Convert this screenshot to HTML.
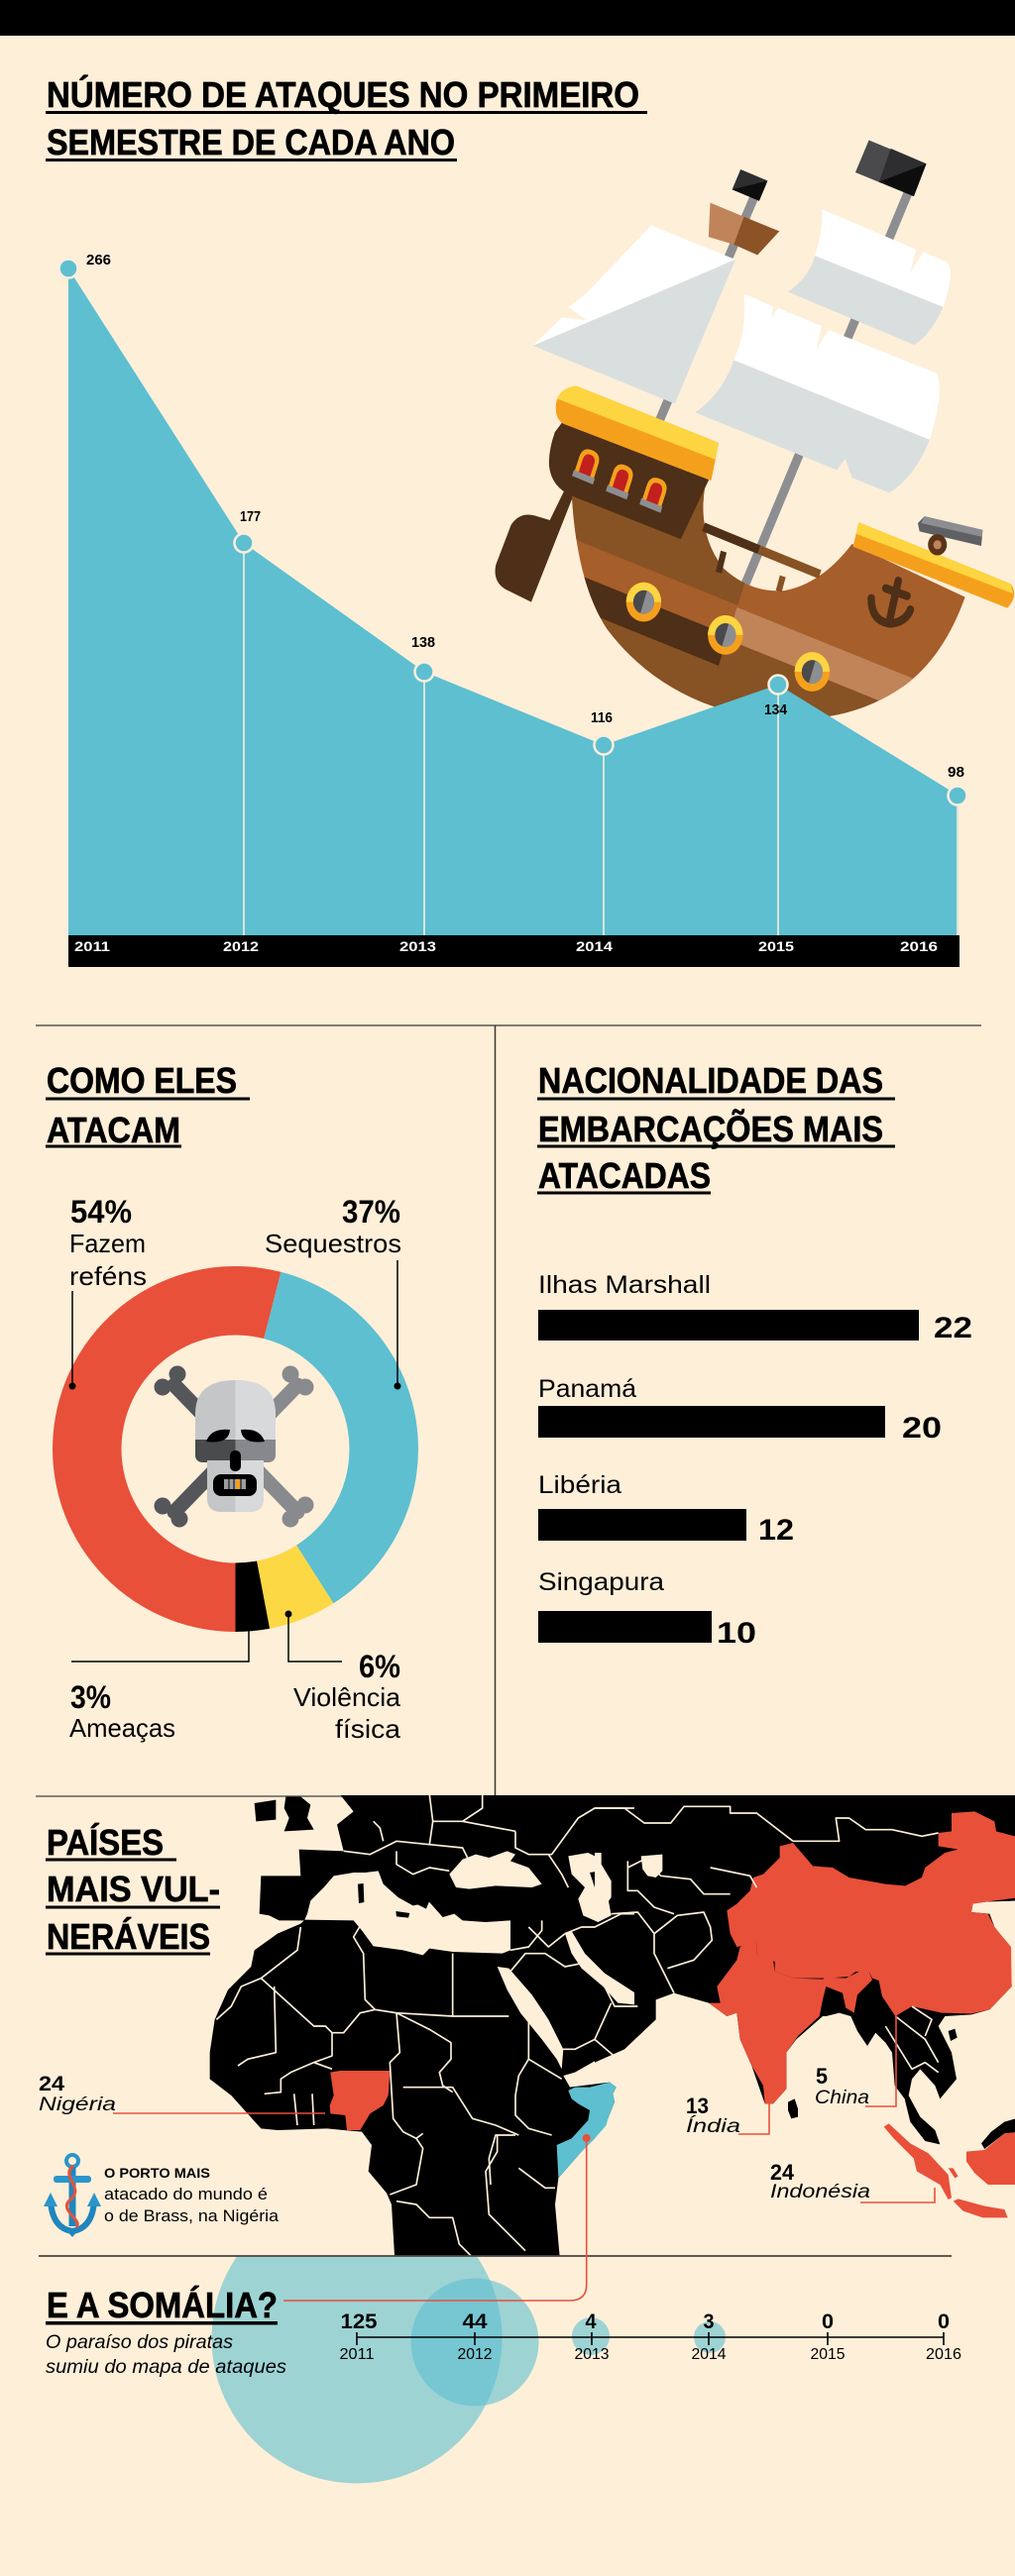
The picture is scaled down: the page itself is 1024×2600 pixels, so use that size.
<!DOCTYPE html>
<html><head><meta charset="utf-8"><style>
html,body{margin:0;padding:0;background:#feefd9;width:1024px;height:2600px;overflow:hidden}
svg{display:block}
text{font-family:"Liberation Sans",Arial,sans-serif}
.t{font-weight:bold;font-size:36px;fill:#000;stroke:#000;stroke-width:0.7px}
.b{fill:none;stroke:#feefd9;stroke-width:5;stroke-linejoin:round}
</style></head><body>
<svg width="1024" height="2600" viewBox="0 0 1024 2600" xmlns="http://www.w3.org/2000/svg">
<defs>
<clipPath id="mapclip"><rect x="0" y="1812" width="1024" height="465"/></clipPath>
<clipPath id="lowclip"><rect x="0" y="2277" width="1024" height="330"/></clipPath>
</defs>
<rect x="0" y="0" width="1024" height="2600" fill="#feefd9"/>
<rect x="0" y="0" width="1024" height="36" fill="#000"/>

<!-- TITLE 1 -->
<text class="t" x="47" y="108" textLength="598" lengthAdjust="spacingAndGlyphs">NÚMERO DE ATAQUES NO PRIMEIRO</text>
<rect x="46" y="112" width="607" height="3" fill="#000"/>
<text class="t" x="47" y="156" textLength="412" lengthAdjust="spacingAndGlyphs">SEMESTRE DE CADA ANO</text>
<rect x="46" y="160" width="415" height="3" fill="#000"/>

<!-- SHIP -->
<g transform="translate(490,130) scale(0.3406,0.3827)">
 <line x1="800" y1="170" x2="505" y2="790" stroke="#8d8e91" stroke-width="26"/>
 <line x1="1255" y1="160" x2="760" y2="1220" stroke="#8d8e91" stroke-width="26"/>
 <polygon points="1135,30 1305,92 1268,178 1095,115" fill="#4a4a4c"/>
 <polygon points="1200,52 1305,92 1268,178 1165,140" fill="#2e2e30"/>
 <polygon points="1165,140 1305,92 1268,178" fill="#0d0d0d"/>
 <polygon points="755,107 835,137 810,190 730,160" fill="#2e2e30"/>
 <polygon points="730,160 835,137 810,190" fill="#0d0d0d"/>
 <polygon points="665,195 765,232 735,305 660,285" fill="#c0845a"/>
 <polygon points="765,232 870,270 805,333 735,305" fill="#8b5326"/>
 <polygon points="490,255 740,345 140,572 225,498 300,505 245,470 290,440 300,432" fill="#ffffff"/>
 <polygon points="740,345 560,725 140,572" fill="#d9dfde"/>
 <path d="M995,212 L1275,318 L1258,378 L1297,325 L1368,352 Q1390,380 1355,470 L975,335 Q1000,270 995,212 Z" fill="#ffffff"/>
 <path d="M975,335 L1355,470 Q1320,540 1270,570 L895,430 Q960,390 975,335 Z" fill="#d9dfde"/>
 <path d="M765,435 L850,468 L848,500 L865,472 L995,520 L980,580 L1015,530 L1335,645 Q1360,690 1315,820 L735,610 Q775,530 765,435 Z" fill="#ffffff"/>
 <path d="M735,610 L1315,820 Q1270,920 1195,960 L1085,920 L1065,870 L1040,900 L620,748 Q700,700 735,610 Z" fill="#d9dfde"/>
 <path d="M60,1215 Q20,1195 30,1150 L75,1045 Q100,1010 145,1020 L190,1032 L235,950 L262,962 L135,1248 Z" fill="#4e2f17"/>
 <clipPath id="hullc"><path d="M255,965 L575,1080 L650,940 Q625,1070 705,1160 Q785,1225 885,1218 Q995,1200 1085,1095 L1420,1235 Q1360,1385 1250,1462 Q1120,1548 950,1556 Q780,1562 640,1512 Q470,1450 360,1320 Q270,1200 255,965 Z"/></clipPath>
 <clipPath id="hl"><polygon points="0,800 790,800 770,1190 625,1600 0,1600"/></clipPath>
 <clipPath id="hr"><polygon points="790,800 1700,800 1700,1700 625,1700 625,1600 770,1190"/></clipPath>
 <g clip-path="url(#hullc)">
  <rect x="0" y="850" width="1700" height="800" fill="#a65e2b"/>
  <g clip-path="url(#hl)">
   <polygon points="0,800 1600,800 1600,1564 0,988" fill="#875224"/>
   <polygon points="0,1077 1600,1653 1600,1744 0,1168" fill="#4e2f17"/>
   <polygon points="0,1168 1600,1744 1600,1800 0,1800" fill="#875224"/>
  </g>
  <g clip-path="url(#hr)">
   <polygon points="0,994 1700,1606 1700,1701 0,1089" fill="#c08458"/>
   <polygon points="0,1089 1700,1701 1700,1800 0,1800" fill="#875224"/>
  </g>
 </g>
 <line x1="645" y1="1050" x2="810" y2="1110" stroke="#4e2f17" stroke-width="24"/>
 <line x1="810" y1="1110" x2="990" y2="1175" stroke="#875224" stroke-width="24"/>
 <line x1="705" y1="1115" x2="690" y2="1170" stroke="#4e2f17" stroke-width="18"/>
 <line x1="880" y1="1180" x2="868" y2="1220" stroke="#875224" stroke-width="18"/>
 <path d="M230,770 L665,918 L578,1082 L255,968 Q195,945 188,890 Q185,850 205,800 Z" fill="#4e2f17"/>
 <path d="M268,678 L690,828 L668,928 L230,778 Q205,765 208,728 Q212,688 268,678 Z" fill="#f5a01d"/>
 <path d="M268,678 L690,828 L680,872 L212,712 Q222,684 268,678 Z" fill="#fdd540"/>
 <g transform="translate(300,890) rotate(20)"><path d="M-30,35 L-30,-15 Q-30,-45 0,-45 Q30,-45 30,-15 L30,35 Z" fill="#f5a01d"/><path d="M-18,25 L-18,-12 Q-18,-32 0,-32 Q18,-32 18,-12 L18,25 Z" fill="#c1201f"/><rect x="-33" y="22" width="66" height="17" fill="#8d8e91"/></g>
 <g transform="translate(400,930) rotate(20)"><path d="M-30,35 L-30,-15 Q-30,-45 0,-45 Q30,-45 30,-15 L30,35 Z" fill="#f5a01d"/><path d="M-18,25 L-18,-12 Q-18,-32 0,-32 Q18,-32 18,-12 L18,25 Z" fill="#c1201f"/><rect x="-33" y="22" width="66" height="17" fill="#8d8e91"/></g>
 <g transform="translate(500,965) rotate(20)"><path d="M-30,35 L-30,-15 Q-30,-45 0,-45 Q30,-45 30,-15 L30,35 Z" fill="#f5a01d"/><path d="M-18,25 L-18,-12 Q-18,-32 0,-32 Q18,-32 18,-12 L18,25 Z" fill="#c1201f"/><rect x="-33" y="22" width="66" height="17" fill="#8d8e91"/></g>
 <g><circle cx="468" cy="1248" r="52" fill="#f5a01d"/><path d="M416,1248 A52,52 0 0 1 520,1248 Z" fill="#fdd540"/><circle cx="468" cy="1248" r="31" fill="#4a4a4c"/><path d="M478,1218 A31,31 0 0 1 458,1278 Z" fill="#8d8e91"/></g>
 <g><circle cx="710" cy="1335" r="52" fill="#f5a01d"/><path d="M658,1335 A52,52 0 0 1 762,1335 Z" fill="#fdd540"/><circle cx="710" cy="1335" r="31" fill="#4a4a4c"/><path d="M720,1305 A31,31 0 0 1 700,1365 Z" fill="#8d8e91"/></g>
 <g><circle cx="967" cy="1432" r="52" fill="#f5a01d"/><path d="M915,1432 A52,52 0 0 1 1019,1432 Z" fill="#fdd540"/><circle cx="967" cy="1432" r="31" fill="#4a4a4c"/><path d="M977,1402 A31,31 0 0 1 957,1462 Z" fill="#8d8e91"/></g>
 <path d="M1105,1038 L1555,1200 Q1580,1232 1545,1264 L1088,1102 Z" fill="#f5a01d"/>
 <path d="M1105,1038 L1555,1200 L1562,1226 L1097,1068 Z" fill="#fdd540"/>
 <g stroke="#4e2f17" stroke-width="22" fill="none" stroke-linecap="round">
  <line x1="1222" y1="1192" x2="1198" y2="1290"/>
  <line x1="1185" y1="1212" x2="1248" y2="1232"/>
  <path d="M1142,1238 Q1142,1300 1200,1305 Q1245,1300 1258,1268"/>
 </g>
 <polygon points="1280,1040 1300,1022 1472,1058 1468,1100 1285,1062" fill="#5f6063"/>
 <polygon points="1300,1022 1472,1058 1470,1076 1290,1040" fill="#8d8e91"/>
 <circle cx="1338" cy="1097" r="28" fill="#5a3418"/>
 <circle cx="1338" cy="1097" r="12" fill="#c0845a"/>
</g>

<!-- AREA CHART -->
<polygon points="69,271 246,548 428,678 609,752 785,691 967,803 967,944 69,944" fill="#5dbfd0"/>
<g stroke="#fbeedd" stroke-width="1.6">
 <line x1="246" y1="558" x2="246" y2="944"/>
 <line x1="428" y1="688" x2="428" y2="944"/>
 <line x1="609" y1="762" x2="609" y2="944"/>
 <line x1="785" y1="701" x2="785" y2="944"/>
 <line x1="966" y1="813" x2="966" y2="944"/>
</g>
<g fill="#5dbfd0" stroke="#fbeedd" stroke-width="2.5">
 <circle cx="69" cy="271" r="9.5"/>
 <circle cx="246" cy="548" r="9.5"/>
 <circle cx="428" cy="678" r="9.5"/>
 <circle cx="609" cy="752" r="9.5"/>
 <circle cx="785" cy="691" r="9.5"/>
 <circle cx="966" cy="803" r="9.5"/>
</g>
<g font-weight="bold" font-size="15" fill="#000">
 <text x="87" y="267" textLength="25" lengthAdjust="spacingAndGlyphs">266</text>
 <text x="242" y="526" textLength="21" lengthAdjust="spacingAndGlyphs">177</text>
 <text x="415" y="653" textLength="24" lengthAdjust="spacingAndGlyphs">138</text>
 <text x="596" y="729" textLength="22" lengthAdjust="spacingAndGlyphs">116</text>
 <text x="771" y="721" textLength="23" lengthAdjust="spacingAndGlyphs">134</text>
 <text x="956" y="784" textLength="17" lengthAdjust="spacingAndGlyphs">98</text>
</g>
<rect x="69" y="944" width="899" height="32" fill="#000"/>
<g font-weight="bold" font-size="14" fill="#fff">
 <text x="75" y="960" textLength="36" lengthAdjust="spacingAndGlyphs">2011</text>
 <text x="225" y="960" textLength="36" lengthAdjust="spacingAndGlyphs">2012</text>
 <text x="403" y="960" textLength="37" lengthAdjust="spacingAndGlyphs">2013</text>
 <text x="581" y="960" textLength="37" lengthAdjust="spacingAndGlyphs">2014</text>
 <text x="765" y="960" textLength="36" lengthAdjust="spacingAndGlyphs">2015</text>
 <text x="908" y="960" textLength="38" lengthAdjust="spacingAndGlyphs">2016</text>
</g>

<!-- DIVIDERS -->
<line x1="36" y1="1035" x2="990" y2="1035" stroke="#5a5550" stroke-width="1.5"/>
<line x1="499.5" y1="1035" x2="499.5" y2="1813" stroke="#3a3530" stroke-width="1.5"/>
<line x1="36" y1="1813" x2="990" y2="1813" stroke="#7a7268" stroke-width="1.8"/>

<!-- COMO ELES ATACAM -->
<text class="t" font-size="34" x="47" y="1103" textLength="192" lengthAdjust="spacingAndGlyphs">COMO ELES</text>
<rect x="46" y="1107.5" width="206" height="3" fill="#000"/>
<text class="t" font-size="34" x="47" y="1153" textLength="135" lengthAdjust="spacingAndGlyphs">ATACAM</text>
<rect x="46" y="1155.5" width="137" height="3" fill="#000"/>

<!-- DONUT -->
<path d="M283.38,1283.79 A184.5,184.5 0 0 1 336.36,1618.27 L299.12,1559.59 A115,115 0 0 0 266.10,1351.11 Z" fill="#5dbfd0"/>
<path d="M336.36,1618.27 A184.5,184.5 0 0 1 272.07,1643.73 L259.05,1575.46 A115,115 0 0 0 299.12,1559.59 Z" fill="#fdd845"/>
<path d="M272.07,1643.73 A184.5,184.5 0 0 1 237.5,1647 L237.5,1577.5 A115,115 0 0 0 259.05,1575.46 Z" fill="#000"/>
<path d="M237.5,1647 A184.5,184.5 0 1 1 283.38,1283.79 L266.10,1351.11 A115,115 0 1 0 237.5,1577.5 Z" fill="#e8503a"/>
<!-- skull -->
<g stroke-linecap="round" stroke-width="15">
 <line x1="176" y1="1398" x2="238" y2="1462" stroke="#55565a"/>
 <line x1="238" y1="1462" x2="300" y2="1526" stroke="#898a8d"/>
 <line x1="300" y1="1398" x2="238" y2="1462" stroke="#898a8d"/>
 <line x1="238" y1="1462" x2="176" y2="1526" stroke="#55565a"/>
</g>
<g fill="#55565a"><circle cx="164" cy="1400" r="8.5"/><circle cx="179" cy="1387" r="8.5"/><circle cx="164" cy="1520" r="8.5"/><circle cx="181" cy="1533" r="8.5"/></g>
<g fill="#898a8d"><circle cx="293" cy="1387" r="8.5"/><circle cx="308" cy="1400" r="8.5"/><circle cx="293" cy="1533" r="8.5"/><circle cx="308" cy="1519" r="8.5"/></g>
<path d="M197,1472 L197,1427 Q197,1393 237.5,1393 Q278,1393 278,1427 L278,1472 Z" fill="#c5c6c8"/>
<path d="M237.5,1393 Q278,1393 278,1427 L278,1472 L237.5,1472 Z" fill="#d8d9db"/>
<path d="M197,1453 L237.5,1453 L237.5,1476 L205,1476 Q197,1476 197,1468 Z" fill="#4a4b4d"/>
<path d="M237.5,1453 L278,1453 L278,1468 Q278,1476 270,1476 L237.5,1476 Z" fill="#87888b"/>
<path d="M209,1474 L266,1474 L266,1512 Q266,1526 252,1526 L223,1526 Q209,1526 209,1512 Z" fill="#c5c6c8"/>
<path d="M237.5,1474 L266,1474 L266,1512 Q266,1526 252,1526 L237.5,1526 Z" fill="#d8d9db"/>
<path d="M208,1455 Q213,1441 232,1443 Q231,1458 208,1455 Z" fill="#000"/>
<path d="M267,1455 Q262,1441 243,1443 Q244,1458 267,1455 Z" fill="#000"/>
<rect x="232" y="1464" width="11" height="21" rx="5" fill="#000"/>
<rect x="215" y="1488" width="44" height="22" rx="8" fill="#000"/>
<rect x="226" y="1493" width="22" height="10" fill="#9c9da0"/>
<rect x="238" y="1493" width="4" height="10" fill="#f5a01d"/>
<g stroke="#000" stroke-width="1"><line x1="231" y1="1493" x2="231" y2="1503"/><line x1="236" y1="1493" x2="236" y2="1503"/><line x1="243" y1="1493" x2="243" y2="1503"/></g>

<!-- donut labels -->
<g fill="#000">
 <text x="71" y="1234" font-weight="bold" font-size="32" textLength="62" lengthAdjust="spacingAndGlyphs">54%</text>
 <text x="70" y="1264" font-size="26" textLength="77" lengthAdjust="spacingAndGlyphs">Fazem</text>
 <text x="70" y="1297" font-size="26" textLength="78" lengthAdjust="spacingAndGlyphs">reféns</text>
 <text x="345" y="1234" font-weight="bold" font-size="32" textLength="59" lengthAdjust="spacingAndGlyphs">37%</text>
 <text x="267" y="1264" font-size="26" textLength="138" lengthAdjust="spacingAndGlyphs">Sequestros</text>
 <text x="362" y="1693" font-weight="bold" font-size="32" textLength="42" lengthAdjust="spacingAndGlyphs">6%</text>
 <text x="296" y="1722" font-size="26" textLength="108" lengthAdjust="spacingAndGlyphs">Violência</text>
 <text x="338" y="1754" font-size="26" textLength="66" lengthAdjust="spacingAndGlyphs">física</text>
 <text x="71" y="1724" font-weight="bold" font-size="32" textLength="41" lengthAdjust="spacingAndGlyphs">3%</text>
 <text x="70" y="1753" font-size="26" textLength="107" lengthAdjust="spacingAndGlyphs">Ameaças</text>
</g>
<g stroke="#000" stroke-width="1.5" fill="none">
 <line x1="73" y1="1303" x2="73" y2="1399"/>
 <line x1="401" y1="1272" x2="401" y2="1399"/>
 <polyline points="251,1645 251,1677 72,1677"/>
 <polyline points="291,1629 291,1677 345,1677"/>
</g>
<g fill="#000"><circle cx="73" cy="1399" r="3.5"/><circle cx="401" cy="1399" r="3.5"/><circle cx="291" cy="1629" r="3.5"/></g>

<!-- NACIONALIDADE -->
<text class="t" font-size="34" x="543" y="1103" textLength="348" lengthAdjust="spacingAndGlyphs">NACIONALIDADE DAS</text>
<rect x="542" y="1107.5" width="361" height="3" fill="#000"/>
<text class="t" font-size="34" x="543" y="1152" textLength="348" lengthAdjust="spacingAndGlyphs">EMBARCAÇÕES MAIS</text>
<rect x="542" y="1155.5" width="361" height="3" fill="#000"/>
<text class="t" font-size="34" x="543" y="1199" textLength="174" lengthAdjust="spacingAndGlyphs">ATACADAS</text>
<rect x="542" y="1202.5" width="175" height="3" fill="#000"/>
<g fill="#000">
 <text x="543" y="1305" font-size="25" textLength="174" lengthAdjust="spacingAndGlyphs">Ilhas Marshall</text>
 <rect x="543" y="1322" width="384" height="31"/>
 <text x="942" y="1350" font-weight="bold" font-size="30" textLength="39" lengthAdjust="spacingAndGlyphs">22</text>
 <text x="543" y="1410" font-size="25" textLength="99" lengthAdjust="spacingAndGlyphs">Panamá</text>
 <rect x="543" y="1419" width="350" height="32"/>
 <text x="910" y="1451" font-weight="bold" font-size="30" textLength="40" lengthAdjust="spacingAndGlyphs">20</text>
 <text x="543" y="1507" font-size="25" textLength="84" lengthAdjust="spacingAndGlyphs">Libéria</text>
 <rect x="543" y="1523" width="210" height="32"/>
 <text x="765" y="1554" font-weight="bold" font-size="30" textLength="36" lengthAdjust="spacingAndGlyphs">12</text>
 <text x="543" y="1605" font-size="25" textLength="127" lengthAdjust="spacingAndGlyphs">Singapura</text>
 <rect x="543" y="1626" width="175" height="32"/>
 <text x="723" y="1658" font-weight="bold" font-size="30" textLength="40" lengthAdjust="spacingAndGlyphs">10</text>
</g>

<!-- SOMALIA BUBBLES -->
<g clip-path="url(#lowclip)">
 <circle cx="360" cy="2360" r="146.5" fill="#5dbfd0" fill-opacity="0.6"/>
</g>
<circle cx="479" cy="2364" r="64.5" fill="#5dbfd0" fill-opacity="0.6"/>
<circle cx="596" cy="2358" r="19" fill="#5dbfd0" fill-opacity="0.6"/>
<circle cx="716" cy="2359" r="16" fill="#5dbfd0" fill-opacity="0.6"/>

<!-- MAP -->
<g clip-path="url(#mapclip)">
<g transform="translate(200,1805) scale(0.333333)">
 <polygon fill="#000" points="430,20 1320,20 1320,700 1280,780 1210,820 1140,860 1105,870 1125,905 1245,890 1265,905 1255,925 1260,950 1240,1000 1200,1060 1160,1100 1090,1180 1080,1260 1095,1430 595,1430 585,1260 570,1225 515,1160 525,1080 495,1040 440,1035 390,1030 240,1035 190,1030 100,930 35,880 35,800 50,700 90,610 160,540 170,490 240,440 310,410 320,400 245,400 215,385 185,380 190,265 310,265 305,185 440,190 420,110 470,70"/>
 <polygon fill="#000" points="170,45 235,35 235,95 175,100"/>
 <polygon fill="#000" points="265,25 310,25 340,50 330,90 350,125 260,130 275,90 260,60"/>
</g>
<g transform="translate(600,1805) scale(0.333333)">
 <polygon fill="#000" points="0,20 1290,20 1290,340 1145,345 1140,375 1195,380 1210,420 1255,480 1262,600 1195,670 1140,685 1060,690 1040,720 1060,760 1080,800 1095,880 1045,940 1030,900 985,850 960,880 950,930 985,995 1030,1035 1045,1078 1000,1068 955,1010 938,940 908,900 900,800 880,770 850,740 825,780 795,735 775,690 740,680 700,690 690,690 610,760 580,800 580,910 540,955 515,955 475,840 440,760 430,680 400,690 345,650 240,620 185,640 185,700 90,790 0,830"/>
 <polygon fill="#000" points="585,950 605,940 615,970 615,995 595,1000 585,975"/>
 <polygon fill="#000" points="1070,735 1090,728 1097,755 1077,765"/>
 <polygon fill="#000" points="1170,1075 1200,1040 1240,1010 1290,995 1290,1040 1240,1045 1180,1092"/>
</g>
<g transform="translate(200,1805) scale(0.333333)" fill="#feefd9">
 <polygon points="322,398 470,400 495,430 530,478 620,490 680,505 700,485 770,495 920,500 945,490 945,400 870,405 800,400 775,380 740,390 700,345 650,355 605,330 560,290 545,250 505,255 470,255 410,265 380,300 340,340 330,380"/>
 <polygon points="760,260 800,215 840,200 880,210 935,190 960,200 945,220 1000,240 1040,290 1010,300 900,295 820,305 780,300"/>
 <polygon points="1120,205 1180,195 1220,215 1215,250 1185,255 1200,300 1240,330 1250,385 1210,405 1165,385 1150,335 1170,300 1130,260"/>
 <polygon points="905,540 940,545 1010,625 1060,700 1105,790 1100,850 1085,820 1040,760 975,680 935,610"/>
 <polygon points="1110,440 1130,432 1170,500 1230,560 1320,618 1320,655 1270,650 1225,600 1160,545 1130,500"/>
</g>
<g transform="translate(200,1805) scale(0.333333)" fill="#000">
 <polygon points="545,225 585,235 640,300 700,340 690,365 650,345 600,320 560,280 540,240"/>
 <polygon points="483,290 500,288 502,345 486,348"/>
 <polygon points="598,372 640,378 636,392 600,388"/>
</g>
<g transform="translate(600,1805) scale(0.333333)">
 <polygon fill="#feefd9" points="0,195 20,195 20,230 50,280 50,330 0,400"/>
 <polygon fill="#feefd9" points="140,205 205,200 205,250 185,270 160,265 145,245"/>
 <polygon fill="#e8503a" points="1080,75 1150,70 1210,100 1215,130 1290,150 1290,330 1210,340 1145,350 1140,375 1190,380 1210,420 1260,480 1262,600 1195,670 1140,682 1050,680 960,660 910,690 870,630 860,582 840,575 830,555 790,555 770,570 700,575 600,575 545,555 545,525 490,500 490,470 430,480 410,440 400,370 430,350 470,310 480,270 510,260 560,210 560,175 600,165 630,200 660,235 720,240 770,270 880,290 940,295 990,270 1000,240 1060,195 1100,185 1040,175 1040,135 1080,130"/>
 <polygon fill="#e8503a" points="345,650 380,650 370,600 430,520 440,480 465,470 490,470 490,500 540,520 545,555 600,575 690,578 700,572 760,575 800,555 830,555 840,580 795,625 785,680 760,665 750,620 700,600 690,640 680,690 615,750 580,800 580,910 540,955 515,955 510,900 475,840 440,760 430,680 400,690"/>
 <polygon fill="#e8503a" points="875,1025 890,1015 955,1075 1010,1105 1070,1170 1080,1240 1070,1245 1045,1200 975,1160 965,1120 905,1060"/>
 <polygon fill="#e8503a" points="1085,1250 1100,1243 1180,1265 1240,1275 1250,1300 1175,1300 1115,1280"/>
 <polygon fill="#e8503a" points="1125,1100 1180,1095 1240,1045 1290,1040 1290,1200 1190,1200 1150,1165 1125,1130"/>
 <polygon fill="#e8503a" points="1070,1150 1085,1150 1100,1175 1090,1180"/>
</g>
<g transform="translate(200,1805) scale(0.333333)">
 <polygon fill="#e8503a" points="400,860 430,855 580,855 575,930 560,960 520,985 490,1035 450,1035 445,990 400,985 398,960 410,930"/>
 <polygon fill="#5dbfd0" points="1120,915 1140,905 1185,905 1245,890 1265,905 1255,925 1260,950 1240,1000 1235,1020 1200,1060 1160,1100 1090,1180 1085,1080 1130,1060 1180,1005 1185,975 1150,955 1130,940"/>
</g>
<g transform="translate(200,1805) scale(0.333333)">
 <polyline class="b" points="310,420 300,490 190,575 130,600 100,660 55,700"/>
 <polyline class="b" points="190,575 350,720 385,720 405,740 405,810 350,830"/>
 <polyline class="b" points="230,600 235,800 150,820 120,840"/>
 <polyline class="b" points="500,400 470,450 500,500 505,640 535,670 600,680 770,690 770,500"/>
 <polyline class="b" points="535,670 490,680 440,740 405,740"/>
 <polyline class="b" points="770,690 940,690"/>
 <polyline class="b" points="600,680 610,800 580,830 590,1000 620,1040 660,1060"/>
 <polyline class="b" points="600,680 700,730 765,770 765,820 730,860 740,900 770,920"/>
 <polyline class="b" points="405,850 350,830 280,860 250,880 250,920 200,925"/>
 <polyline class="b" points="620,905 770,905 830,1000 900,1020 970,1050"/>
 <polyline class="b" points="1000,690 1000,820 970,870 960,930 960,990 1000,1030 1070,1050"/>
 <polyline class="b" points="1000,820 1100,880"/>
 <polyline class="b" points="960,1050 900,1050 880,1120 885,1200"/>
 <polyline class="b" points="680,1045 660,1060 680,1090 660,1200 580,1230"/>
 <polyline class="b" points="905,1050 905,1100 870,1160 880,1290 990,1400"/>
 <polyline class="b" points="970,1150 1050,1210 1080,1210"/>
 <polyline class="b" points="600,1250 660,1260 700,1300 770,1300 790,1380 830,1420"/>
 <polyline class="b" points="290,925 300,1020"/>
 <polyline class="b" points="345,925 350,1020"/>
 <polyline class="b" points="945,490 1000,480 1040,430 1040,400"/>
 <polyline class="b" points="940,560 990,500 1050,500 1110,540 1160,530"/>
 <polyline class="b" points="1250,650 1200,760 1270,820"/>
 <polyline class="b" points="1100,790 1140,790 1200,760"/>
 <polyline class="b" points="440,190 520,200 560,180 600,160 700,170 800,180 820,220"/>
 <polyline class="b" points="530,100 550,120 560,160"/>
 <polyline class="b" points="600,190 600,230 650,260 700,240 760,250"/>
 <polyline class="b" points="700,20 710,100 800,100 860,60 860,20"/>
 <polyline class="b" points="710,100 700,170"/>
 <polyline class="b" points="960,130 960,180 1000,200 1070,200 1150,90 1200,60 1320,60"/>
 <polyline class="b" points="800,100 960,130"/>
 <polyline class="b" points="1060,200 1100,260 1120,300"/>
 <polyline class="b" points="1000,420 1060,480 1110,440"/>
 <polyline class="b" points="1110,440 1160,420 1200,420 1280,380 1320,380"/>
</g>
<g transform="translate(600,1805) scale(0.333333)">
 <polyline class="b" points="0,60 90,60 150,105 230,105 270,55 410,55 410,75 490,75 600,160"/>
 <polyline class="b" points="600,160 740,160 730,90 770,90 820,125 900,125 990,145 1040,135"/>
 <polyline class="b" points="100,240 150,215 200,265 290,275 330,320 410,320"/>
 <polyline class="b" points="50,380 130,375 180,440 180,500 210,560 240,620"/>
 <polyline class="b" points="180,440 250,385 330,375 350,420 355,460 300,520 220,545"/>
 <polyline class="b" points="350,240 470,265 490,300"/>
 <polyline class="b" points="100,220 100,310 130,310 180,360 240,380"/>
 <polyline class="b" points="880,720 960,850 1000,830 1040,860"/>
 <polyline class="b" points="910,690 1000,760 1040,830"/>
 <polyline class="b" points="960,660 1020,700 1000,750"/>
 <polyline class="b" points="0,540 30,600 60,660 130,660"/>
</g>
</g>
<line x1="39" y1="2277" x2="960" y2="2277" stroke="#4a4540" stroke-width="1.8"/>

<!-- PAISES title -->
<text class="t" font-size="34" x="47" y="1872" textLength="118" lengthAdjust="spacingAndGlyphs">PAÍSES</text>
<rect x="46" y="1875.5" width="132" height="3" fill="#000"/>
<text class="t" font-size="34" x="47" y="1919" textLength="175" lengthAdjust="spacingAndGlyphs">MAIS VUL-</text>
<rect x="46" y="1923.5" width="176" height="3" fill="#000"/>
<text class="t" font-size="34" x="47" y="1967" textLength="165" lengthAdjust="spacingAndGlyphs">NERÁVEIS</text>
<rect x="46" y="1970.5" width="166" height="3" fill="#000"/>

<!-- map labels -->
<g fill="#000">
 <text x="39" y="2110" font-weight="bold" font-size="21" textLength="26" lengthAdjust="spacingAndGlyphs">24</text>
 <text x="39" y="2130" font-style="italic" font-size="19" textLength="78" lengthAdjust="spacingAndGlyphs">Nigéria</text>
 <text x="692" y="2133" font-weight="bold" font-size="22" textLength="23" lengthAdjust="spacingAndGlyphs">13</text>
 <text x="692" y="2152" font-style="italic" font-size="19" textLength="55" lengthAdjust="spacingAndGlyphs">Índia</text>
 <text x="823" y="2103" font-weight="bold" font-size="22" textLength="12" lengthAdjust="spacingAndGlyphs">5</text>
 <text x="822" y="2123" font-style="italic" font-size="19" textLength="55" lengthAdjust="spacingAndGlyphs">China</text>
 <text x="777" y="2200" font-weight="bold" font-size="22" textLength="24" lengthAdjust="spacingAndGlyphs">24</text>
 <text x="777" y="2218" font-style="italic" font-size="19" textLength="101" lengthAdjust="spacingAndGlyphs">Indonésia</text>
</g>
<g stroke="#e8503a" stroke-width="1.6" fill="none">
 <line x1="114" y1="2133" x2="328" y2="2133"/>
 <polyline points="745,2154 776,2154 776,2123"/>
 <polyline points="873,2126 904,2126 904,2032"/>
 <polyline points="868,2223 943,2223 943,2208"/>
 <path d="M591.7,2158 L591.7,2306 Q591.7,2322 575,2322 L286,2322"/>
</g>
<circle cx="591.7" cy="2158" r="4" fill="#e8503a"/>

<!-- anchor -->
<g>
 <circle cx="73" cy="2181" r="6" fill="none" stroke="#2b95c9" stroke-width="4"/>
 <rect x="69.5" y="2187" width="7" height="60" fill="#1f86bd"/>
 <rect x="54" y="2196" width="38" height="7" rx="3" fill="#2b95c9"/>
 <path d="M51,2222 Q53,2249 73,2252 Q93,2249 95,2222" fill="none" stroke="#1f86bd" stroke-width="6"/>
 <polygon points="44,2227 51,2213 58,2227" fill="#2b95c9"/>
 <polygon points="88,2227 95,2213 102,2227" fill="#2b95c9"/>
 <polygon points="66,2250 73,2258 80,2250" fill="#1f86bd"/>
 <path d="M74,2186 C60,2196 86,2208 71,2220 C58,2231 84,2240 77,2248" fill="none" stroke="#e8503a" stroke-width="3"/>
</g>
<g fill="#000">
 <text x="105" y="2198" font-weight="bold" font-size="14" textLength="107" lengthAdjust="spacingAndGlyphs">O PORTO MAIS</text>
 <text x="105" y="2220" font-size="17" textLength="165" lengthAdjust="spacingAndGlyphs">atacado do mundo é</text>
 <text x="105" y="2242" font-size="17" textLength="176" lengthAdjust="spacingAndGlyphs">o de Brass, na Nigéria</text>
</g>

<!-- E A SOMALIA -->
<text class="t" font-size="34" x="47" y="2339" textLength="233" lengthAdjust="spacingAndGlyphs">E A SOMÁLIA?</text>
<rect x="46" y="2343" width="234" height="3.5" fill="#000"/>
<g fill="#000">
 <text x="46" y="2370" font-style="italic" font-size="19" textLength="189" lengthAdjust="spacingAndGlyphs">O paraíso dos piratas</text>
 <text x="46" y="2395" font-style="italic" font-size="19" textLength="243" lengthAdjust="spacingAndGlyphs">sumiu do mapa de ataques</text>
</g>
<g stroke="#000" stroke-width="1.6">
 <line x1="360" y1="2359" x2="952" y2="2359"/>
 <line x1="360" y1="2354" x2="360" y2="2367"/>
 <line x1="479" y1="2354" x2="479" y2="2367"/>
 <line x1="597" y1="2354" x2="597" y2="2367"/>
 <line x1="715" y1="2354" x2="715" y2="2367"/>
 <line x1="835" y1="2354" x2="835" y2="2367"/>
 <line x1="952" y1="2354" x2="952" y2="2367"/>
</g>
<g fill="#000" text-anchor="middle">
 <g font-weight="bold" font-size="21">
  <text x="362" y="2350" textLength="37" lengthAdjust="spacingAndGlyphs">125</text>
  <text x="479" y="2350" textLength="25" lengthAdjust="spacingAndGlyphs">44</text>
  <text x="596" y="2350" textLength="11" lengthAdjust="spacingAndGlyphs">4</text>
  <text x="715" y="2350" textLength="11" lengthAdjust="spacingAndGlyphs">3</text>
  <text x="835" y="2350" textLength="12" lengthAdjust="spacingAndGlyphs">0</text>
  <text x="952" y="2350" textLength="12" lengthAdjust="spacingAndGlyphs">0</text>
 </g>
 <g font-size="16">
  <text x="360" y="2381" textLength="35" lengthAdjust="spacingAndGlyphs">2011</text>
  <text x="479" y="2381" textLength="35" lengthAdjust="spacingAndGlyphs">2012</text>
  <text x="597" y="2381" textLength="35" lengthAdjust="spacingAndGlyphs">2013</text>
  <text x="715" y="2381" textLength="35" lengthAdjust="spacingAndGlyphs">2014</text>
  <text x="835" y="2381" textLength="35" lengthAdjust="spacingAndGlyphs">2015</text>
  <text x="952" y="2381" textLength="36" lengthAdjust="spacingAndGlyphs">2016</text>
 </g>
</g>
</svg>
</body></html>
